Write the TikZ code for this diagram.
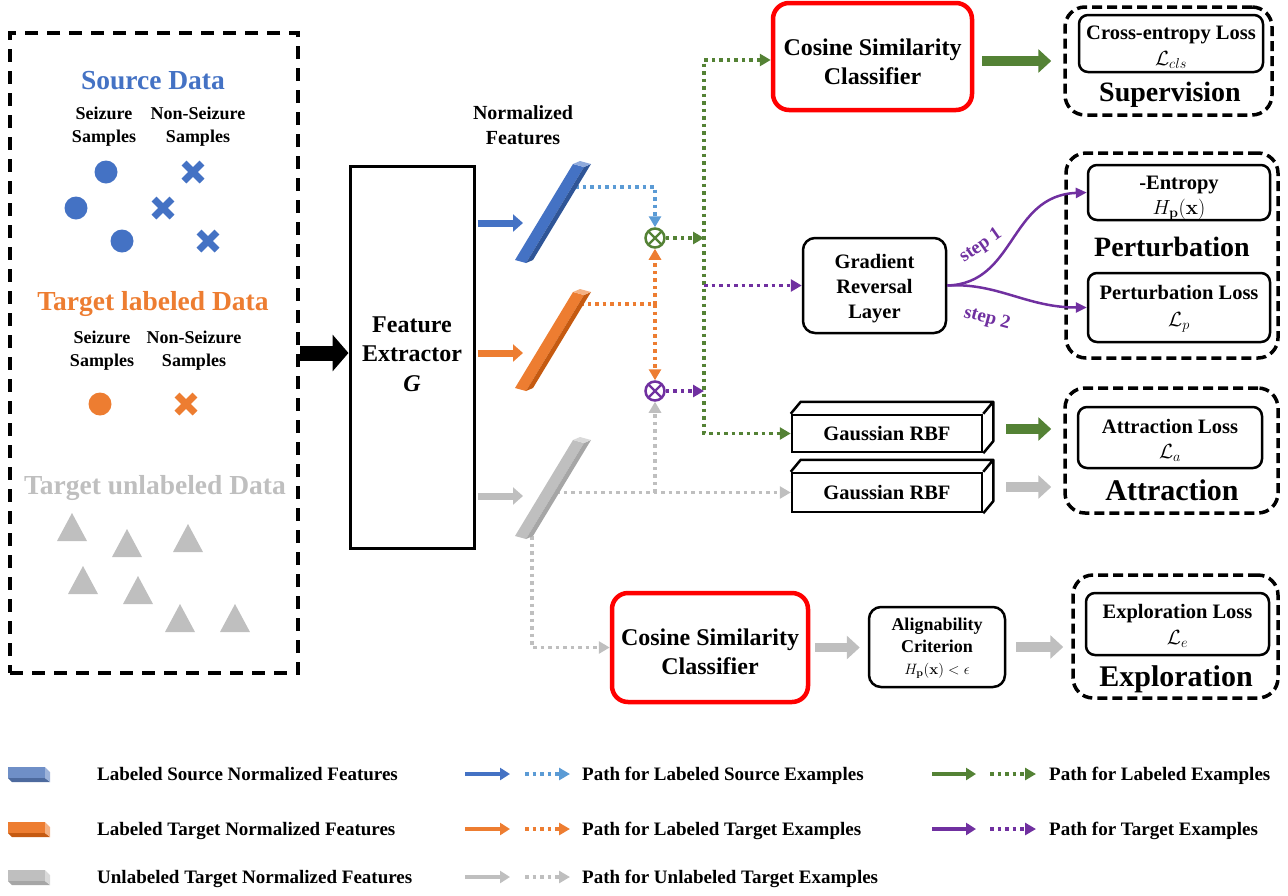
\RequirePackage{fix-cm}
\documentclass[tikz,border=0pt]{standalone}
\usepackage[no-math]{fontspec}
\setmainfont{Liberation Serif}
\usetikzlibrary{arrows.meta,calc}

\definecolor{cblue}{HTML}{4472C4}
\definecolor{cbluedk}{HTML}{2F5597}
\definecolor{cbluelt}{HTML}{8FAADC}
\definecolor{cskyblue}{HTML}{5B9BD5}
\definecolor{corange}{HTML}{ED7D31}
\definecolor{corangedk}{HTML}{C55A11}
\definecolor{corangelt}{HTML}{F4B183}
\definecolor{cgray}{HTML}{BFBFBF}
\definecolor{cgraydk}{HTML}{A6A6A6}
\definecolor{cgraylt}{HTML}{D9D9D9}
\definecolor{cgreen}{HTML}{548235}
\definecolor{cpurple}{HTML}{7030A0}
\definecolor{cred}{HTML}{FF0000}
\definecolor{cslate}{HTML}{6F8FC7}
\definecolor{cslatedk}{HTML}{4D6A9E}
\definecolor{cslatelt}{HTML}{9DB3DA}

\newcommand{\lblfont}[2]{\fontsize{#1}{#2}\selectfont\bfseries}

% sample markers
\newcommand{\drawcross}[3]{\draw[#3, line width=7pt] (#1-9,#2-9) -- (#1+9,#2+9) (#1-9,#2+9) -- (#1+9,#2-9);}
\newcommand{\drawtri}[2]{\fill[cgray] (#1-15,#2+14) -- (#1+15,#2+14) -- (#1,#2-14) -- cycle;}
% slanted prism for a normalized feature vector: x, y, front, side, end colours
\newcommand{\featbar}[5]{%
  \fill[#3] (#1,#2) -- ++(11,3) -- ++(58,-96) -- ++(-11,-3) -- cycle;
  \fill[#4] (#1+11,#2+3) -- ++(7,-3) -- ++(58,-96) -- ++(-7,3) -- cycle;
  \fill[#5] (#1+58,#2-96) -- ++(11,3) -- ++(7,-3) -- ++(-11,-3) -- cycle;}
% flat slab for the legend: y, top, bottom, end colours
\newcommand{\legicon}[4]{%
  \fill[#2] (8,#1-7) rectangle (45,#1+4);
  \fill[#3] (8,#1+4) -- (45,#1+4) -- (50,#1+8) -- (12,#1+8) -- cycle;
  \fill[#4] (45,#1-7) -- (50,#1-2) -- (50,#1+8) -- (45,#1+4) -- cycle;}

\tikzset{
  lbl/.style={align=center, inner sep=0pt},
  dotline/.style={line width=3.5pt, dash pattern=on 3.5pt off 4pt,
    -{Triangle[length=11pt,width=12pt]}},
  inarrow/.style={line width=7pt, -{Triangle[length=10pt,width=17pt]}},
  fatarrow/.style={line width=9.5pt, -{Triangle[length=13pt,width=23pt]}},
  legsolid/.style={line width=3.5pt, -{Triangle[length=10pt,width=12pt]}},
  redbox/.style={draw=cred, line width=4.5pt, rounded corners=16pt, inner sep=0pt},
  blackbox/.style={draw, line width=2.5pt, rounded corners=12pt, inner sep=0pt},
  lossbox/.style={draw, line width=2.5pt, rounded corners=9pt, inner sep=0pt},
  groupbox/.style={draw, line width=3.5pt, dash pattern=on 10pt off 5pt, rounded corners=20pt, inner sep=0pt},
  otimes/.style={circle, draw=#1, line width=2.5pt, minimum size=19pt, inner sep=0pt,
    path picture={\draw[#1, line width=2.2pt]
      (path picture bounding box.south west) -- (path picture bounding box.north east)
      (path picture bounding box.north west) -- (path picture bounding box.south east);}},
  rbfbox/.style={draw, line width=2.5pt, minimum width=190pt, inner sep=0pt, font=\lblfont{20.5}{24}},
  steplbl/.style={lbl, font=\lblfont{19}{21}, text=cpurple},
}

\begin{document}
\begin{tikzpicture}[x=1pt, y=-1pt]
\useasboundingbox (0,0) rectangle (1288,895);

% ---------------- input data panel ----------------
\node[draw, line width=4pt, dash pattern=on 13pt off 9pt, minimum width=288pt,
      minimum height=640pt, inner sep=0pt] (data) at (154,353) {};
\node[lbl, font=\lblfont{27.5}{30}, text=cblue] (tsrc) at (153,81) {Source Data};
\node[lbl, font=\lblfont{18}{23}] (s1) at (104,126.5) {Seizure\\Samples};
\node[lbl, font=\lblfont{18}{23}] (n1) at (198,126.5) {Non-Seizure\\Samples};
\fill[cblue] (106,172) circle (11.5pt) (76,208) circle (11.5pt) (122,241) circle (11.5pt);
\drawcross{193}{172}{cblue}
\drawcross{163}{208}{cblue}
\drawcross{208}{241}{cblue}

\node[lbl, font=\lblfont{27.5}{30}, text=corange] (ttl) at (153,304) {Target labeled Data};
\node[lbl, font=\lblfont{18}{23}] (s2) at (102,350.5) {Seizure\\Samples};
\node[lbl, font=\lblfont{18}{23}] (n2) at (194,350.5) {Non-Seizure\\Samples};
\fill[corange] (100,404) circle (11.5pt);
\drawcross{186}{404}{corange}

\node[lbl, font=\lblfont{27.5}{30}, text=cgray] (ttu) at (155,488) {Target unlabeled Data};
\drawtri{72}{527}
\drawtri{127}{543}
\drawtri{188}{538}
\drawtri{83}{580}
\drawtri{138}{590}
\drawtri{180}{618}
\drawtri{235}{618}

% ---------------- feature extractor ----------------
\node[draw, line width=3pt, minimum width=124pt, minimum height=382pt, inner sep=0pt] (fe) at (412,357) {};
\node[lbl, font=\lblfont{24}{29.5}] (fet) at (412,354) {Feature\\Extractor\\\textit{G}};
\draw[line width=15pt, -{Triangle[length=16pt,width=36pt]}] (data.east) -- (fe.west |- data.east);

\node[lbl, font=\lblfont{20}{25}] (nf) at (523,125.5) {Normalized\\Features};

% ---------------- processing nodes ----------------
\node[otimes=cgreen] (mg) at (655,238) {};
\node[otimes=cpurple] (mp) at (655,391) {};

\node[redbox, minimum width=199pt, minimum height=107pt] (cos1) at (872.5,56.5) {};
\node[lbl, font=\lblfont{24}{29}] (cos1t) at (872.5,61.5) {Cosine Similarity\\Classifier};
\node[blackbox, minimum width=143pt, minimum height=95pt] (grl) at (874.5,285.5) {};
\node[lbl, font=\lblfont{20.5}{25}] (grlt) at (874.5,288.5) {Gradient\\Reversal\\Layer};
\node[rbfbox, minimum height=37pt] (rbf1) at (887,433.5) {Gaussian RBF};
\node[rbfbox, minimum height=39pt] (rbf2) at (887,492.5) {Gaussian RBF};
\foreach \b in {rbf1,rbf2}{
  \draw[line width=2.5pt, line join=round] (\b.north west) -- ++(10,-12) -- ($(\b.north east)+(10,-12)$)
    -- ($(\b.south east)+(10,-12)$) -- (\b.south east) (\b.north east) -- ++(10,-12);
}
\node[redbox, minimum width=196pt, minimum height=109pt] (cos2) at (710,647.5) {};
\node[lbl, font=\lblfont{24}{29}] (cos2t) at (710,652) {Cosine Similarity\\Classifier};
\node[blackbox, minimum width=136pt, minimum height=80pt] (crit) at (937,647) {};
\node[lbl, font=\lblfont{18}{22}] (critt) at (937,648.5)
  {Alignability\\Criterion\\{\fontsize{15}{22}\selectfont$H_{\mathbf{p}}(\mathbf{x})<\epsilon$}};

% ---------------- loss groups ----------------
\node[groupbox, minimum width=207pt, minimum height=108pt] (sup) at (1168.5,61) {};
\node[lossbox, minimum width=184pt, minimum height=57pt] (ce) at (1171,43.5) {};
\node[lbl, font=\lblfont{20.5}{26}] (cet) at (1171,47.5) {Cross-entropy Loss\\$\mathcal{L}_{cls}$};
\node[lbl, font=\lblfont{28}{30}] (supt) at (1170,95) {Supervision};

\node[groupbox, minimum width=212pt, minimum height=205pt] (pert) at (1172,255.5) {};
\node[lossbox, minimum width=182pt, minimum height=55pt] (ent) at (1179,192.5) {};
\node[lbl, font=\lblfont{20.5}{25}] (entt) at (1179,198) {-Entropy\\$H_{\mathbf{p}}(\mathbf{x})$};
\node[lbl, font=\lblfont{28}{30}] (pertt) at (1172,247) {Perturbation};
\node[lossbox, minimum width=182pt, minimum height=69pt] (pl) at (1179,307.5) {};
\node[lbl, font=\lblfont{20.5}{27}] (plt) at (1179,308.5) {Perturbation Loss\\$\mathcal{L}_p$};

\node[groupbox, minimum width=213pt, minimum height=125pt] (attr) at (1171.5,450.5) {};
\node[lossbox, minimum width=184pt, minimum height=61pt] (al) at (1170,437.5) {};
\node[lbl, font=\lblfont{20.5}{25}] (alt) at (1170,440.5) {Attraction Loss\\$\mathcal{L}_a$};
\node[lbl, font=\lblfont{30}{32}] (attrt) at (1172,490) {Attraction};

\node[groupbox, minimum width=205pt, minimum height=123pt] (expl) at (1175.5,636.5) {};
\node[lossbox, minimum width=183pt, minimum height=62pt] (el) at (1177.5,624) {};
\node[lbl, font=\lblfont{20.5}{26}] (elt) at (1177.5,625.5) {Exploration Loss\\$\mathcal{L}_e$};
\node[lbl, font=\lblfont{30}{32}] (explt) at (1176,679) {Exploration};

% ---------------- feature paths ----------------
\coordinate (inB) at (523,223);
\coordinate (inO) at (523,353);
\coordinate (inG) at (523,496);
\draw[inarrow, cblue, shorten <=2pt] (fe.east |- inB) -- (inB);
\draw[inarrow, corange, shorten <=2pt] (fe.east |- inO) -- (inO);
\draw[inarrow, cgray, shorten <=2pt] (fe.east |- inG) -- (inG);

\coordinate (bOut) at (575,187);
\coordinate (oOut) at (580,304);
\coordinate (oJ) at (655,304);
\coordinate (gOut) at (556,492.5);
\coordinate (gDown) at (532,536);
\coordinate (gTop) at (704,60);
\coordinate (gBot) at (704,433.5);

\draw[dotline, cskyblue] (bOut) -| (mg.north);
\draw[dotline, corange, -] (oOut) -- (oJ);
\draw[dotline, corange] (oJ) -- (mg.south);
\draw[dotline, corange] (oJ) -- (mp.north);
\draw[dotline, cgray] (gOut) -- (rbf2.west);
\draw[dotline, cgray] (mp.south |- gOut) -- (mp.south);
\draw[dotline, cgray] (gDown) |- (cos2.west);

\draw[dotline, cgreen, {Triangle[length=11pt,width=12pt]}-{Triangle[length=11pt,width=12pt]}]
  (cos1.west |- gTop) -- (gTop) -- (gBot) -- (rbf1.west);
\draw[dotline, cgreen] (mg.east) -- (mg.east -| gTop);
\draw[dotline, cpurple] (mp.east) -- (mp.east -| gTop);
\draw[dotline, cpurple] (grl.west -| gTop) -- (grl.west);

% feature vectors drawn over the path ends
\featbar{515}{260}{cblue}{cbluedk}{cbluelt}
\featbar{515}{388}{corange}{corangedk}{corangelt}
\featbar{515}{536}{cgray}{cgraydk}{cgraylt}

% ---------------- loss connections ----------------
\draw[fatarrow, cgreen, shorten <=8pt, shorten >=12pt] (cos1.east |- sup.west) -- (sup.west);
\draw[cpurple, line width=2.5pt, -{Triangle[length=11pt,width=10pt]}]
  (grl.east) .. controls +(69,-2) and +(-78,3) .. (ent.west);
\draw[cpurple, line width=2.5pt, -{Triangle[length=11pt,width=10pt]}]
  (grl.east) .. controls +(50,-3) and +(-60,0) .. (pl.west);
\node[steplbl, rotate=35] (st1) at (981,246) {step 1};
\node[steplbl, rotate=-15] (st2) at (987,319) {step 2};

\draw[fatarrow, cgreen, shorten <=23pt, shorten >=12pt] ([yshift=4.5pt]rbf1.east) -- ([yshift=4.5pt]rbf1.east -| attr.west);
\draw[fatarrow, cgray, shorten <=23pt, shorten >=12pt] ([yshift=5.5pt]rbf2.east) -- ([yshift=5.5pt]rbf2.east -| attr.west);
\draw[fatarrow, cgray, shorten <=5pt, shorten >=8pt] (cos2.east) -- (crit.west |- cos2.east);
\draw[fatarrow, cgray, shorten <=10pt, shorten >=8pt] (crit.east) -- (expl.west |- crit.east);

% ---------------- legend ----------------
\legicon{774}{cslate}{cslatedk}{cslatelt}
\legicon{829}{corange}{corangedk}{corangelt}
\legicon{877}{cgray}{cgraydk}{cgraylt}
\node[anchor=base west, inner sep=0pt, font=\lblfont{19}{22}] (lg1) at (97,780.5) {Labeled Source Normalized Features};
\node[anchor=base west, inner sep=0pt, font=\lblfont{19}{22}] (lg2) at (97,835.5) {Labeled Target Normalized Features};
\node[anchor=base west, inner sep=0pt, font=\lblfont{19}{22}] (lg3) at (97,883.5) {Unlabeled Target Normalized Features};

\draw[legsolid, cblue] (465,774) -- (510,774);
\draw[dotline, cskyblue] (525,774) -- (570,774);
\node[anchor=base west, inner sep=0pt, font=\lblfont{19}{22}] (lg4) at (582,780.5) {Path for Labeled Source Examples};
\draw[legsolid, corange] (465,829) -- (510,829);
\draw[dotline, corange] (525,829) -- (570,829);
\node[anchor=base west, inner sep=0pt, font=\lblfont{19}{22}] (lg5) at (582,835.5) {Path for Labeled Target Examples};
\draw[legsolid, cgray] (465,877) -- (510,877);
\draw[dotline, cgray] (525,877) -- (570,877);
\node[anchor=base west, inner sep=0pt, font=\lblfont{19}{22}] (lg6) at (582,883.5) {Path for Unlabeled Target Examples};

\draw[legsolid, cgreen] (932,774) -- (976,774);
\draw[dotline, cgreen] (990,774) -- (1036,774);
\node[anchor=base west, inner sep=0pt, font=\lblfont{19}{22}] (lg7) at (1049,780.5) {Path for Labeled Examples};
\draw[legsolid, cpurple] (932,829) -- (976,829);
\draw[dotline, cpurple] (990,829) -- (1036,829);
\node[anchor=base west, inner sep=0pt, font=\lblfont{19}{22}] (lg8) at (1049,835.5) {Path for Target Examples};
\end{tikzpicture}
\end{document}
